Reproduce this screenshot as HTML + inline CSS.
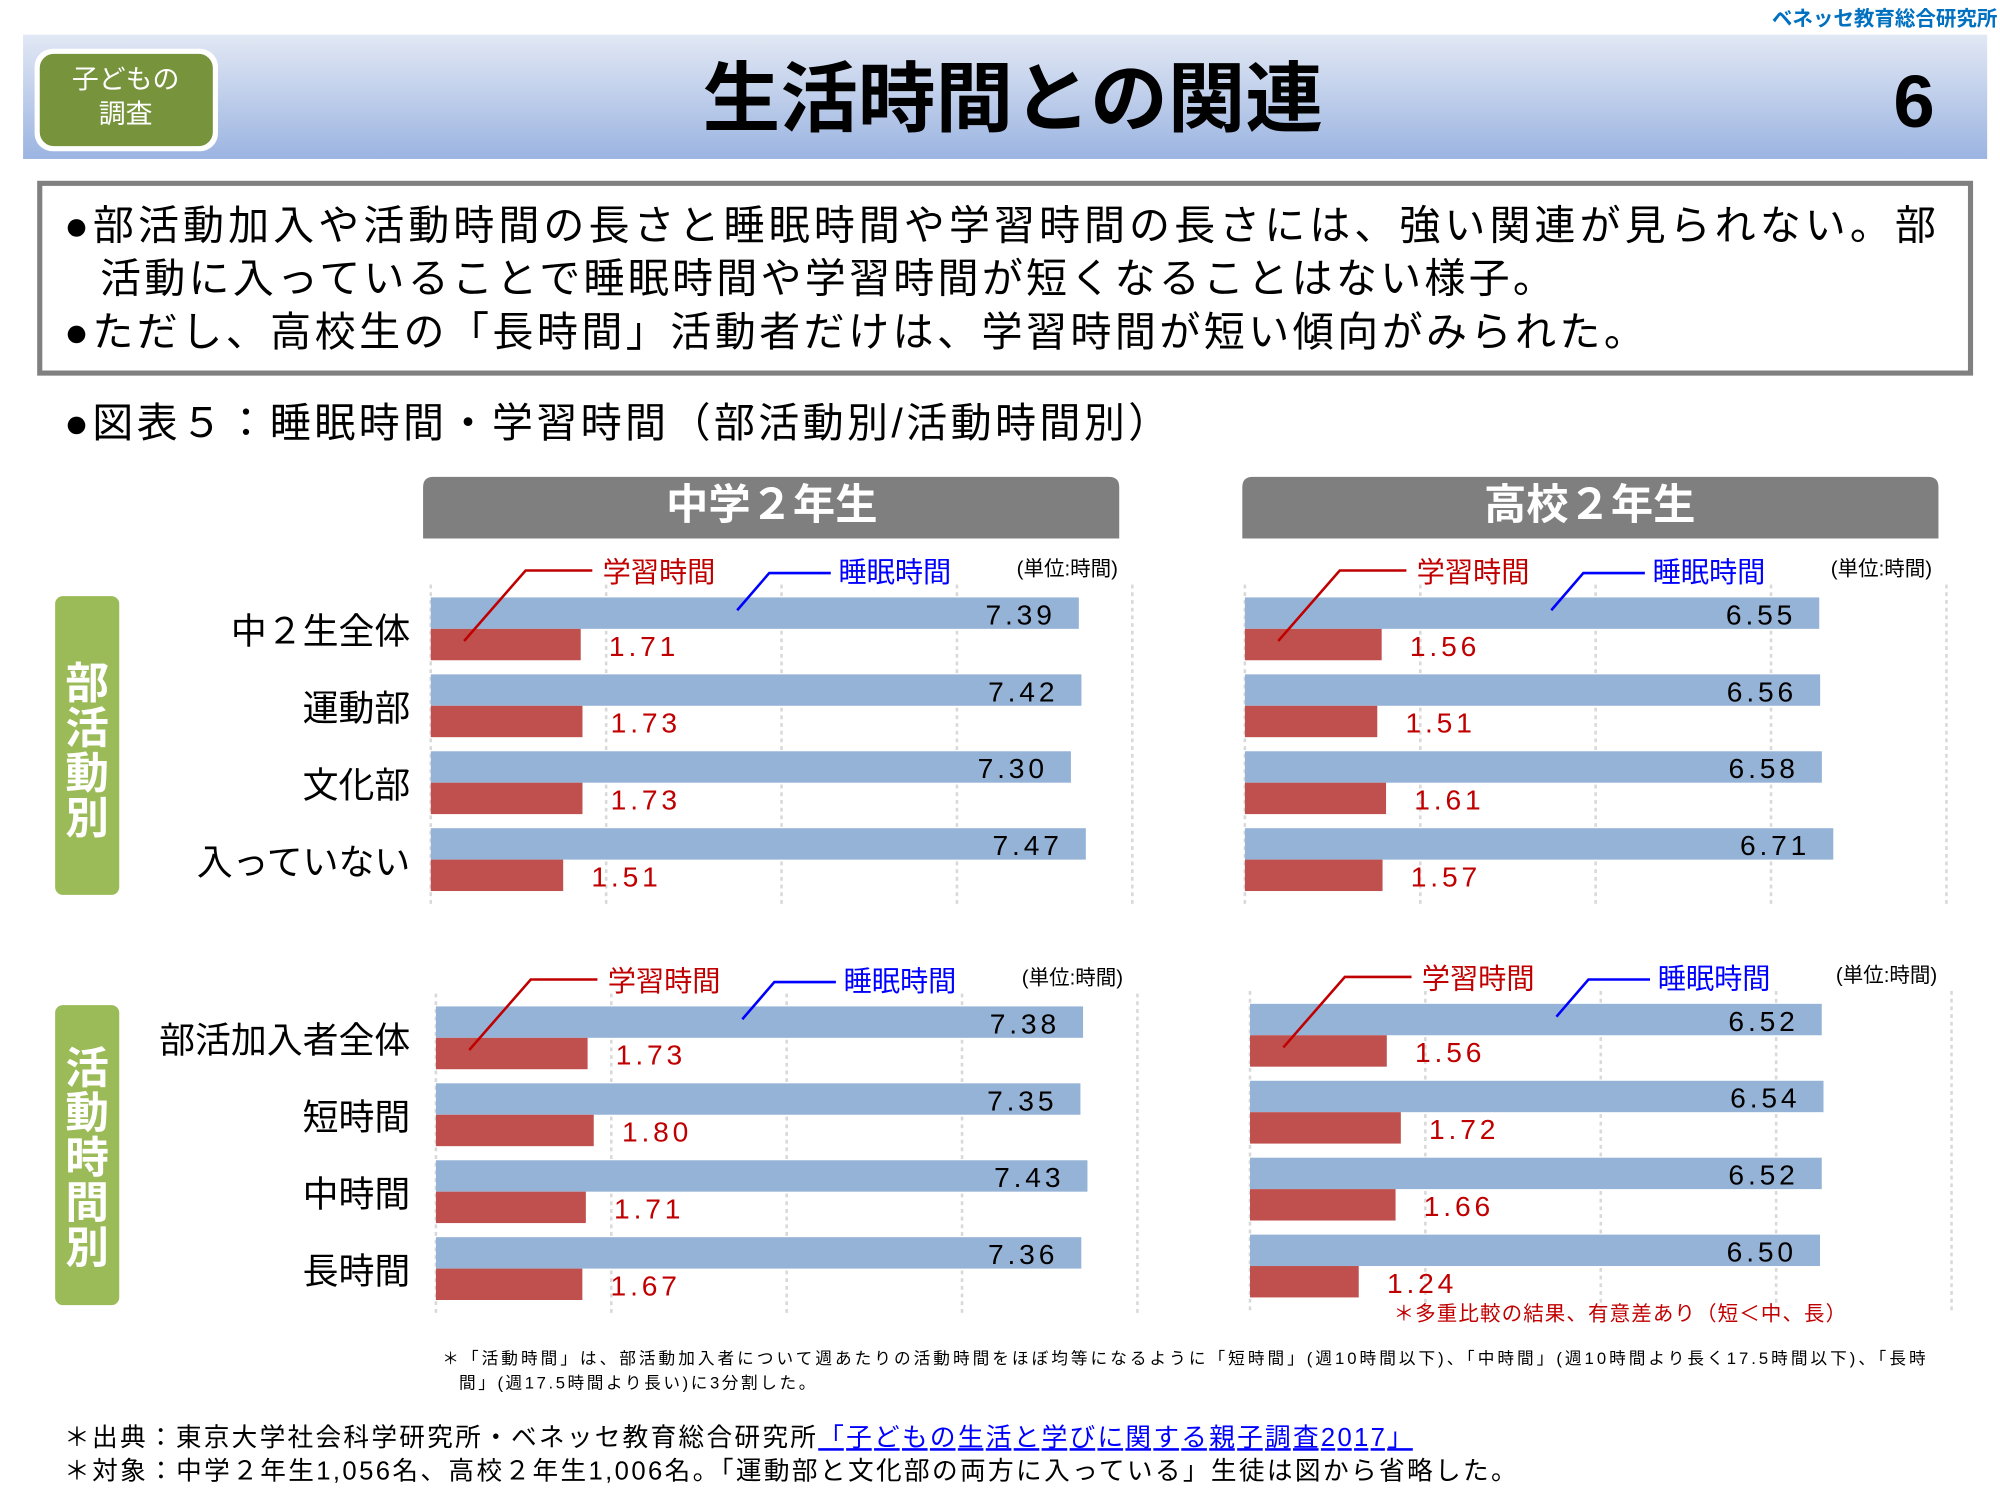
<!DOCTYPE html>
<html><head><meta charset="utf-8"><style>
html,body{margin:0;padding:0;background:#fff;width:2000px;height:1500px;overflow:hidden}
svg{display:block}
text{font-family:"Liberation Sans","Noto Sans CJK JP",sans-serif}
</style></head><body>
<svg id="root" width="2000" height="1500" viewBox="0 0 1560 1170" xmlns="http://www.w3.org/2000/svg">
<defs>
<linearGradient id="hg" x1="0" y1="0" x2="0" y2="1"><stop offset="0" stop-color="#e2e8f4"/><stop offset="1" stop-color="#9bb4e1"/></linearGradient>
</defs>
<text x="1558" y="20" text-anchor="end" font-size="16" fill="#0070c0" font-weight="bold">ベネッセ教育総合研究所</text>
<rect x="18" y="27" width="1532" height="97" fill="url(#hg)"/>
<g>
<rect x="27" y="38" width="143" height="80" rx="14" fill="#fff"/>
<rect x="31" y="42" width="135" height="72" rx="11" fill="#77933c"/>
<text x="98" y="69" text-anchor="middle" font-size="21" fill="#fff">子どもの</text>
<text x="98" y="96" text-anchor="middle" font-size="21" fill="#fff">調査</text>
</g>
<text x="548" y="98" textLength="484" lengthAdjust="spacingAndGlyphs" font-size="60" font-weight="bold" fill="#000">生活時間との関連</text>
<text x="1493" y="99" text-anchor="middle" font-size="58" font-weight="bold" fill="#000">6</text>
<rect x="31" y="143" width="1506" height="148" fill="#fff" stroke="#808080" stroke-width="4"/>
<g font-size="32" fill="#000">
<text x="50" y="187" textLength="1460" lengthAdjust="spacing">●部活動加入や活動時間の長さと睡眠時間や学習時間の長さには、強い関連が見られない。部</text>
<text x="78" y="228" textLength="1134" lengthAdjust="spacing">活動に入っていることで睡眠時間や学習時間が短くなることはない様子。</text>
<text x="50" y="270" textLength="1233" lengthAdjust="spacing">●ただし、高校生の「長時間」活動者だけは、学習時間が短い傾向がみられた。</text>
</g>
<text x="50" y="341" textLength="862" lengthAdjust="spacing" font-size="32" fill="#000">●図表５：睡眠時間・学習時間（部活動別/活動時間別）</text>
<g>
<path d="M330 420 V380 Q330 372 338 372 H865 Q873 372 873 380 V420 Z" fill="#7f7f7f"/>
<text x="602" y="405" text-anchor="middle" font-size="33" font-weight="bold" fill="#fff">中学２年生</text>
</g>
<g>
<path d="M969 420 V380 Q969 372 977 372 H1504 Q1512 372 1512 380 V420 Z" fill="#7f7f7f"/>
<text x="1240" y="405" text-anchor="middle" font-size="33" font-weight="bold" fill="#fff">高校２年生</text>
</g>
<g>
<rect x="43" y="465" width="50" height="233" rx="6" fill="#9bbb59"/>
<text x="68" y="545" text-anchor="middle" font-size="34" font-weight="bold" fill="#fff"><tspan x="68" y="545">部</tspan><tspan x="68" y="580">活</tspan><tspan x="68" y="615">動</tspan><tspan x="68" y="650">別</tspan></text>
</g>
<g>
<rect x="43" y="784" width="50" height="234" rx="6" fill="#9bbb59"/>
<text x="68" y="845" text-anchor="middle" font-size="34" font-weight="bold" fill="#fff"><tspan x="68" y="845">活</tspan><tspan x="68" y="880">動</tspan><tspan x="68" y="915">時</tspan><tspan x="68" y="950">間</tspan><tspan x="68" y="985">別</tspan></text>
</g>
<g id="charts"></g>
<text x="1087" y="1030" textLength="353" lengthAdjust="spacing" font-size="16" fill="#c00000">＊多重比較の結果、有意差あり（短＜中、長）</text>
<g font-size="13" fill="#000">
<text x="345" y="1064" textLength="1157" lengthAdjust="spacing">＊「活動時間」は、部活動加入者について週あたりの活動時間をほぼ均等になるように「短時間」(週10時間以下)、「中時間」(週10時間より長く17.5時間以下)、「長時</text>
<text x="358" y="1083" textLength="278" lengthAdjust="spacing">間」(週17.5時間より長い)に3分割した。</text>
</g>
<g font-size="20" fill="#000">
<text x="50" y="1128" textLength="1052" lengthAdjust="spacing">＊出典：東京大学社会科学研究所・ベネッセ教育総合研究所<tspan fill="#0000ff" text-decoration="underline">「子どもの生活と学びに関する親子調査2017」</tspan></text>
<text x="50" y="1154" textLength="1133" lengthAdjust="spacing">＊対象：中学２年生1,056名、高校２年生1,006名。「運動部と文化部の両方に入っている」生徒は図から省略した。</text>
</g>
</svg>
<script>
const clubCategories = ["中２生全体","運動部","文化部","入っていない"];
const activityCategories = ["部活加入者全体","短時間","中時間","長時間"];
const msClubSleep = [7.39,7.42,7.30,7.47];
const msClubStudy = [1.71,1.73,1.73,1.51];
const hsClubSleep = [6.55,6.56,6.58,6.71];
const hsClubStudy = [1.56,1.51,1.61,1.57];
const msActSleep = [7.38,7.35,7.43,7.36];
const msActStudy = [1.73,1.80,1.71,1.67];
const hsActSleep = [6.52,6.54,6.52,6.50];
const hsActStudy = [1.56,1.72,1.66,1.24];
const gridTicks = [0,2,4,6,8];

const NS = "http://www.w3.org/2000/svg";
const root = document.getElementById("charts");
function mk(tag, attrs, parent, txt){
  const e = document.createElementNS(NS, tag);
  for (const k in attrs) e.setAttribute(k, attrs[k]);
  if (txt !== undefined) e.textContent = txt;
  parent.appendChild(e);
  return e;
}
function panel(name, x0, top, sleep, study, cats){
  const g = mk("g", {}, root);
  
  
  const xs = v => x0 + v * 68.4;
  const pitch = 60;
  gridTicks.forEach(t => {
    const l = mk("line", {x1: xs(t), x2: xs(t), y1: top - 10, y2: top + 3*pitch + 60, stroke: "#d9d9d9", "stroke-width": 2, "stroke-dasharray": "3,3"}, g);
    
    
  });
  sleep.forEach((v, i) => {
    const y = top + i*pitch;
    const b = mk("rect", {x: x0, y: y, width: xs(v) - x0, height: 24.5, fill: "#95b3d7"}, g);
    
    
    const t = mk("text", {x: xs(v) - 18, y: y + 21, "text-anchor": "end", "font-size": 22, "letter-spacing": 3, fill: "#000"}, g, v.toFixed(2));
    
    
  });
  study.forEach((v, i) => {
    const y = top + i*pitch + 24.5;
    const b = mk("rect", {x: x0, y: y, width: xs(v) - x0, height: 24.5, fill: "#c0504d"}, g);
    
    
    const t = mk("text", {x: xs(v) + 22, y: y + 21, "font-size": 22, "letter-spacing": 3, fill: "#c00000"}, g, v.toFixed(2));
    
    
  });
  if (cats) cats.forEach((c, i) => {
    const t = mk("text", {x: 320, y: top + i*pitch + 36, "text-anchor": "end", "font-size": 28, fill: "#000"}, g, c);
    
    
  });
  const ly = top - 21;
  const p1 = mk("polyline", {points: `${x0+26},${top+34} ${x0+74},${ly} ${x0+126},${ly}`, fill: "none", stroke: "#c00000", "stroke-width": 2}, g);
  
  
  const t1 = mk("text", {x: x0+134, y: ly+9, "font-size": 22, fill: "#c00000"}, g, "学習時間");
  
  
  const p2 = mk("polyline", {points: `${x0+239},${top+10} ${x0+264},${ly+2} ${x0+312},${ly+2}`, fill: "none", stroke: "#0000ff", "stroke-width": 2}, g);
  
  
  const t2 = mk("text", {x: x0+318, y: ly+9, "font-size": 22, fill: "#0000ff"}, g, "睡眠時間");
  
  
  const t3 = mk("text", {x: x0+457, y: ly+4, "font-size": 16, fill: "#000"}, g, "(単位:時間)");
  
  
}
panel("middle-school-club-chart", 336, 466, msClubSleep, msClubStudy, clubCategories);
panel("high-school-club-chart", 971, 466, hsClubSleep, hsClubStudy, null);
panel("middle-school-activity-chart", 340, 785, msActSleep, msActStudy, activityCategories);
panel("high-school-activity-chart", 975, 783, hsActSleep, hsActStudy, null);
</script>
</body></html>
